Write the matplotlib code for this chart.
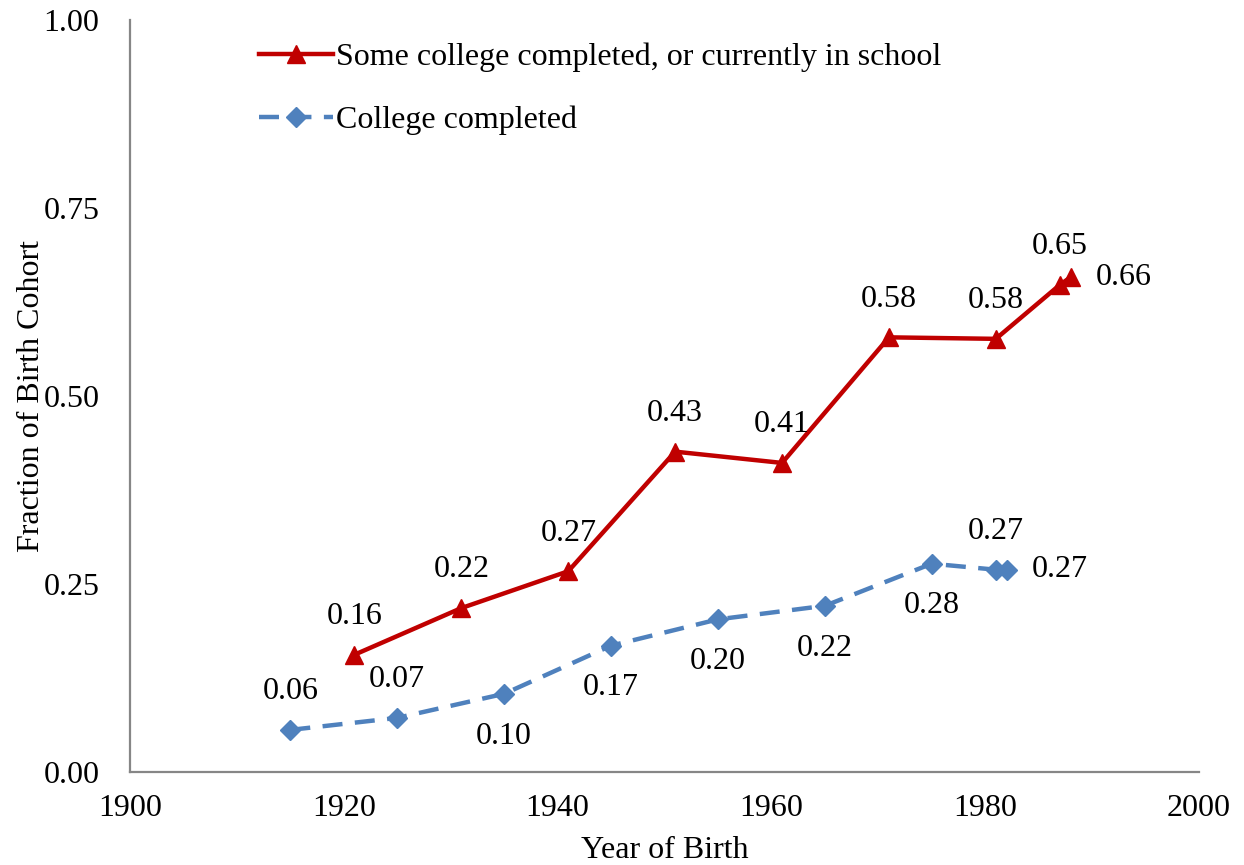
import matplotlib.pyplot as plt

plt.rcParams['font.family'] = ['Liberation Serif', 'DejaVu Serif']

some_years = [1921, 1931, 1941, 1951, 1961, 1971, 1981, 1987, 1988]
some_vals = [0.156, 0.218, 0.267, 0.426, 0.411, 0.578, 0.576, 0.648, 0.658]
some_pos = ['above'] * 8 + ['right']

coll_years = [1915, 1925, 1935, 1945, 1955, 1965, 1975, 1981, 1982]
coll_vals = [0.056, 0.072, 0.104, 0.168, 0.203, 0.221, 0.277, 0.269, 0.269]
coll_pos = ['above', 'above', 'below', 'below', 'below', 'below', 'below', 'above', 'right']

fig = plt.figure(figsize=(12.44, 8.65), dpi=100)
ax = fig.add_axes([0.1045, 0.1075, 0.8593, 0.8694])

red = '#C00000'
blue = '#4F81BD'
fs = 23

ax.plot(some_years, some_vals, color=red, lw=3.2, marker='^', markersize=13,
        label='Some college completed, or currently in school')
ax.plot(coll_years, coll_vals, color=blue, lw=3.2, ls=(0, (4.5, 2.8)), marker='D',
        markersize=10, label='College completed')


def annotate(xs, ys, pos):
    for x, y, p in zip(xs, ys, pos):
        txt = f'{y:.2f}'
        if p == 'above':
            ax.annotate(txt, (x, y), xytext=(0, 17), textcoords='offset points',
                        ha='center', va='bottom', fontsize=fs)
        elif p == 'below':
            ax.annotate(txt, (x, y), xytext=(0, -20), textcoords='offset points',
                        ha='center', va='top', fontsize=fs)
        else:
            ax.annotate(txt, (x, y), xytext=(18, 0), textcoords='offset points',
                        ha='left', va='center', fontsize=fs)


annotate(some_years, some_vals, some_pos)
annotate(coll_years, coll_vals, coll_pos)

ax.set_xlim(1900, 2000)
ax.set_ylim(0, 1.0)
ax.set_xticks([1900, 1920, 1940, 1960, 1980, 2000])
ax.set_yticks([0, 0.25, 0.5, 0.75, 1.0])
ax.set_yticklabels(['0.00', '0.25', '0.50', '0.75', '1.00'])
ax.tick_params(length=0, labelsize=fs)
ax.tick_params(axis='y', pad=22)
ax.tick_params(axis='x', pad=16)

for s in ['top', 'right']:
    ax.spines[s].set_visible(False)
for s in ['left', 'bottom']:
    ax.spines[s].set_color('#868686')
    ax.spines[s].set_linewidth(1.6)

ax.set_xlabel('Year of Birth', fontsize=fs, labelpad=9)
ax.set_ylabel('Fraction of Birth Cohort', fontsize=fs, labelpad=-2)

ax.legend(loc='upper left', bbox_to_anchor=(0.094, 1.008), frameon=False, fontsize=fs,
          handlelength=2.3, labelspacing=1.05, handletextpad=0.1)

fig.savefig('out.png', dpi=100)
